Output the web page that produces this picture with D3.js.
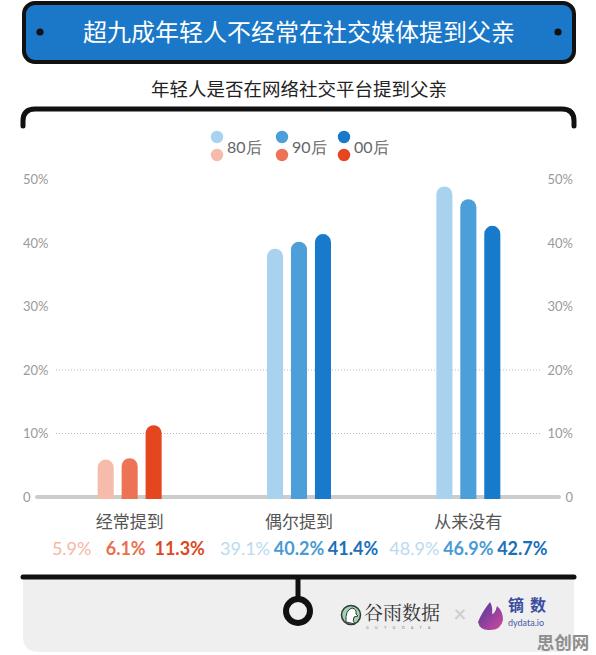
<!DOCTYPE html>
<html><head><meta charset="utf-8">
<script src="https://cdn.jsdelivr.net/npm/d3@7/dist/d3.min.js"></script>
<style>
html,body{margin:0;padding:0;background:#fff;}
svg{display:block;}
</style></head>
<body>
<script>
const title = "超九成年轻人不经常在社交媒体提到父亲";
const subtitle = "年轻人是否在网络社交平台提到父亲";
const categories = ["经常提到", "偶尔提到", "从来没有"];
const generations = ["80后", "90后", "00后"];
const values = [
  [5.9, 6.1, 11.3],
  [39.1, 40.2, 41.4],
  [48.9, 46.9, 42.7]
];
const yTicks = [0, 10, 20, 30, 40, 50];
const gridTicks = [10, 20];

const blues = ["#a9d2ee", "#4c9fd9", "#177acb"];
const reds = ["#f6bcab", "#ec7356", "#e5461f"];
const blueText = ["#b9daf0", "#4a9ad3", "#1870b9"];
const redText = ["#f4b8a5", "#e8704f", "#dc4822"];
const groupPal = [reds, blues, blues];
const groupTextPal = [redText, blueText, blueText];

const W = 596, H = 655;
const svg = d3.select("body").append("svg").attr("width", W).attr("height", H);
const cjk = "'Noto Sans CJK SC', 'Noto Sans', sans-serif";
const latin = "Lato, 'Noto Sans', sans-serif";

// Title box
svg.append("rect").attr("x", 24).attr("y", 3).attr("width", 550).attr("height", 59)
  .attr("rx", 11).attr("fill", "#1b78c8").attr("stroke", "#111").attr("stroke-width", 4);
svg.append("circle").attr("cx", 40).attr("cy", 32).attr("r", 3.6).attr("fill", "#111");
svg.append("circle").attr("cx", 558).attr("cy", 32).attr("r", 3.6).attr("fill", "#111");
svg.append("text").attr("x", 299).attr("y", 41).attr("text-anchor", "middle")
  .attr("font-family", cjk).attr("font-size", 24).attr("fill", "#fff").text(title);

svg.append("text").attr("x", 299).attr("y", 96).attr("text-anchor", "middle")
  .attr("font-family", cjk).attr("font-size", 18.5).attr("fill", "#222").text(subtitle);

// Frame top
svg.append("path").attr("d", "M23,126 L23,121 Q23,109 35,109 L562,109 Q574,109 574,121 L574,126")
  .attr("fill", "none").attr("stroke", "#111").attr("stroke-width", 5).attr("stroke-linecap", "round");

// Bottom panel
svg.append("path").attr("d", "M23,577 L574,577 L574,636 Q574,652 558,652 L39,652 Q23,652 23,636 Z")
  .attr("fill", "#efefef");
svg.append("line").attr("x1", 23).attr("x2", 574).attr("y1", 577).attr("y2", 577)
  .attr("stroke", "#111").attr("stroke-width", 5).attr("stroke-linecap", "round");
svg.append("line").attr("x1", 298).attr("x2", 298).attr("y1", 577).attr("y2", 599)
  .attr("stroke", "#111").attr("stroke-width", 5);
svg.append("circle").attr("cx", 298).attr("cy", 611).attr("r", 12)
  .attr("fill", "none").attr("stroke", "#111").attr("stroke-width", 6);

// Scales
const x0 = d3.scaleBand().domain(categories).range([45, 553]);
const x1 = d3.scaleBand().domain(generations).range([-32, 32]).paddingInner(0.33);
const y = d3.scaleLinear().domain([0, 50]).range([497, 179.5]);

// Gridlines
svg.append("g").selectAll("line").data(gridTicks).join("line")
  .attr("x1", 56).attr("x2", 541).attr("y1", d => y(d)).attr("y2", d => y(d))
  .attr("stroke", "#b8b8b8").attr("stroke-width", 1).attr("stroke-dasharray", "1,2");

// Y axes (left/right)
const fmt = d => d === 0 ? "0" : d + "%";
const leftAxis = d3.axisLeft(y).tickValues(yTicks).tickFormat(fmt).tickSize(0).tickPadding(0);
const rightAxis = d3.axisRight(y).tickValues(yTicks).tickFormat(fmt).tickSize(0).tickPadding(0);
const gl = svg.append("g").attr("transform", "translate(23,0)").call(leftAxis);
gl.select(".domain").remove();
gl.selectAll("text").attr("text-anchor", "start").attr("x", 0);
const gr = svg.append("g").attr("transform", "translate(573,0)").call(rightAxis);
gr.select(".domain").remove();
gr.selectAll("text").attr("text-anchor", "end").attr("x", 0);
svg.selectAll(".tick text").attr("font-family", latin).attr("font-size", 13).attr("fill", "#9a9a9a");

// Baseline
svg.append("line").attr("x1", 37).attr("x2", 559).attr("y1", y(0)).attr("y2", y(0))
  .attr("stroke", "#cccccc").attr("stroke-width", 4).attr("stroke-linecap", "round");

// Bars
const bw = x1.bandwidth();
const r = bw / 2;
function barPath(xl, yt, yb) {
  return `M${xl},${yb} L${xl},${yt + r} A${r},${r} 0 0 1 ${xl + bw},${yt + r} L${xl + bw},${yb} Z`;
}
categories.forEach((c, gi) => {
  const cx = x0(c) + x0.bandwidth() / 2;
  const g = svg.append("g");
  g.selectAll("path").data(values[gi]).join("path")
    .attr("d", (v, i) => barPath(cx + x1(generations[i]), y(v), y(0) + 2))
    .attr("fill", (v, i) => groupPal[gi][i]);
  svg.append("text").attr("x", cx).attr("y", 528).attr("text-anchor", "middle")
    .attr("font-family", cjk).attr("font-size", 17).attr("fill", "#555").text(c);
  svg.append("g").selectAll("text").data(values[gi]).join("text")
    .attr("x", (v, i) => cx - (gi === 0 ? 4 : 0) + (i - 1) * 54)
    .attr("y", 555).attr("text-anchor", "middle")
    .attr("font-family", latin).attr("font-size", 18)
    .attr("font-weight", (v, i) => i === 0 ? "normal" : "bold")
    .attr("fill", (v, i) => groupTextPal[gi][i])
    .text(v => v.toFixed(1) + "%");
});

// Legend
const legX = [217, 282, 344];
generations.forEach((gname, i) => {
  svg.append("circle").attr("cx", legX[i]).attr("cy", 137).attr("r", 6.2).attr("fill", blues[i]);
  svg.append("circle").attr("cx", legX[i]).attr("cy", 155).attr("r", 6.2).attr("fill", reds[i]);
  svg.append("text").attr("x", legX[i] + 10).attr("y", 152.5)
    .attr("font-family", latin).attr("font-size", 16).attr("fill", "#666").text(gname);
});

// Logos
const lg = svg.append("g");
lg.append("circle").attr("cx", 351).attr("cy", 615).attr("r", 9.5).attr("fill", "#a3d3b4")
  .attr("stroke", "#2d3b33").attr("stroke-width", 1.5);
lg.append("path").attr("d", "M346,622 Q345,610 352,608 Q357,609 356,614 L358,616 L354,617 Q352,621 355,624 Z")
  .attr("fill", "#fff").attr("stroke", "#2d3b33").attr("stroke-width", 1);
lg.append("text").attr("x", 364).attr("y", 620).attr("font-family", "'Noto Serif CJK SC', 'Noto Sans CJK SC', serif")
  .attr("font-size", 19).attr("fill", "#333").text("谷雨数据");
lg.append("text").attr("x", 366).attr("y", 629).attr("font-family", latin).attr("font-size", 3.5)
  .attr("letter-spacing", 6.5).attr("fill", "#777").text("GUYUDATA");
lg.append("text").attr("x", 460).attr("y", 622).attr("text-anchor", "middle").attr("font-family", latin)
  .attr("font-size", 22).attr("font-weight", "bold").attr("fill", "#cfcfcf").text("×");
const defs = svg.append("defs");
const grad = defs.append("linearGradient").attr("id", "fl").attr("x1", 0).attr("y1", 0).attr("x2", 1).attr("y2", 1);
grad.append("stop").attr("offset", "0%").attr("stop-color", "#4a3a9c");
grad.append("stop").attr("offset", "100%").attr("stop-color", "#d3489e");
lg.append("path").attr("d", "M490,602 Q482,612 478,622 Q480,631 490,630 Q501,630 503,620 Q503,611 497,606 Q495,614 492,614 Q493,607 490,602 Z")
  .attr("fill", "url(#fl)");
lg.append("text").attr("x", 508).attr("y", 611).attr("font-family", cjk).attr("font-size", 16)
  .attr("font-weight", "bold").attr("letter-spacing", 6).attr("fill", "#3a4c9e").text("镝数");
lg.append("text").attr("x", 508).attr("y", 626).attr("font-family", latin).attr("font-size", 9)
  .attr("fill", "#4a5aa8").text("dydata.io");
lg.append("text").attr("x", 563).attr("y", 649).attr("text-anchor", "middle").attr("font-family", cjk)
  .attr("font-size", 17.5).attr("font-weight", "bold").attr("fill", "#8e8e8e").text("思创网");
</script>
</body></html>
